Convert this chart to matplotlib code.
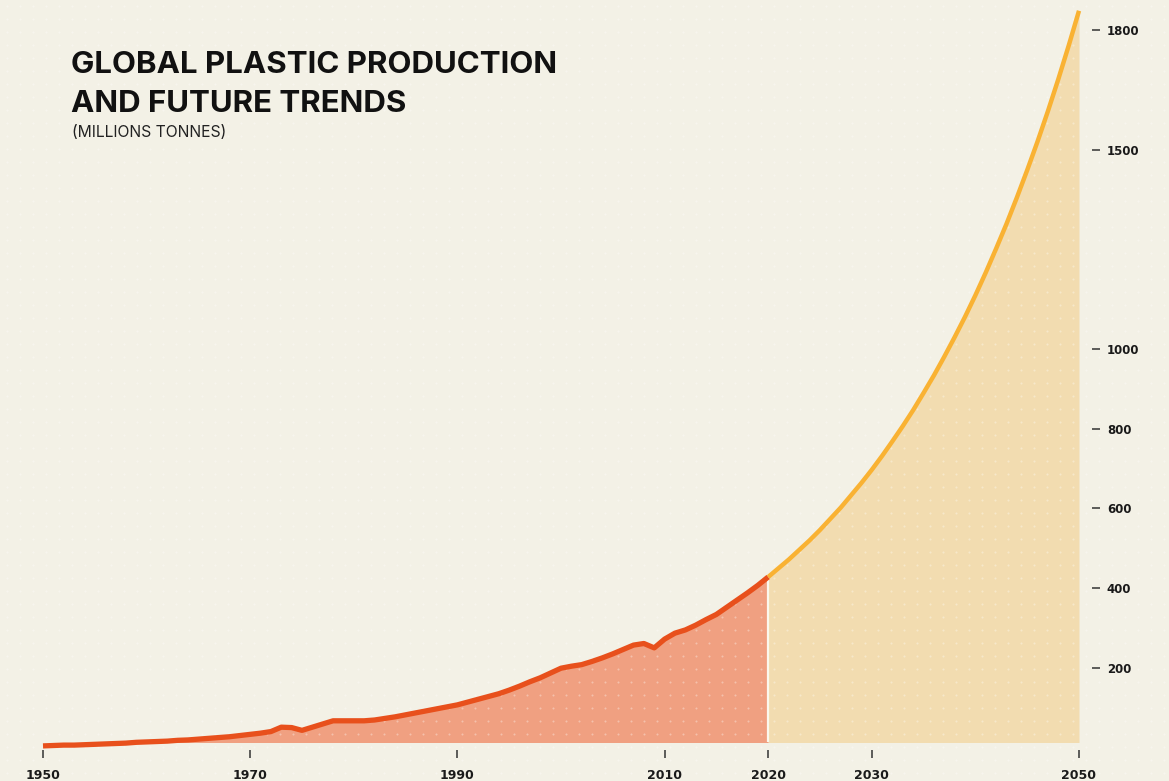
import numpy as np
import matplotlib.pyplot as plt

# historical production, million tonnes
years_hist = list(range(1950, 2021))
production_hist = [4, 5, 6, 6, 7, 8, 9, 10, 11, 13,
                   14, 15, 16, 18, 19, 21, 23, 25, 27, 30,
                   33, 36, 40, 51, 50, 43, 51, 59, 67, 67,
                   67, 67, 69, 73, 77, 82, 87, 92, 97, 102,
                   107, 114, 121, 128, 135, 144, 154, 165, 175, 187,
                   199, 204, 208, 216, 225, 235, 246, 257, 261, 250,
                   272, 287, 295, 307, 321, 334, 352, 370, 388, 407,
                   428]

# projected trend 2020-2050
years_proj = list(range(2020, 2051))
production_proj = [428, 450, 472, 496, 520, 546, 574, 602, 633, 664,
                   697, 732, 769, 807, 847, 890, 934, 981, 1030, 1081,
                   1135, 1192, 1252, 1314, 1380, 1449, 1521, 1597, 1677, 1761,
                   1849]

x_ticks = [1950, 1970, 1990, 2010, 2020, 2030, 2050]
y_ticks = [200, 400, 600, 800, 1000, 1500, 1800]

BG = '#f3f1e6'
W, H = 1169, 781

fig = plt.figure(figsize=(W / 100, H / 100), dpi=100, facecolor=BG)
ax = fig.add_axes([43 / W, 1 - 742 / H, (1079 - 43) / W, 742 / H])
ax.patch.set_alpha(0)

# dotted background pattern
gx, gy = np.meshgrid(np.arange(7, W, 13), np.arange(6, H, 13))
ax.scatter(gx.ravel() / W, 1 - gy.ravel() / H, s=2.2, color='white', alpha=0.35,
           linewidths=0, transform=fig.transFigure, clip_on=False, zorder=1.5)

ax.fill_between(years_hist, production_hist, 0, color='#f0a081', linewidth=0, zorder=1)
ax.fill_between(years_proj, production_proj, 0, color='#f2dcb0', linewidth=0, zorder=1)
ax.vlines(2020, 0, production_hist[-1], color='#fbf8ee', linewidth=1.6, zorder=1.8)

ax.plot(years_hist, production_hist, color='#e8501c', linewidth=3.8,
        solid_joinstyle='round', solid_capstyle='butt', clip_on=False, zorder=2)
ax.plot(years_proj, production_proj, color='#f9b233', linewidth=3.2,
        solid_capstyle='butt', clip_on=False, zorder=2)

ax.set_xlim(1950, 2050)
ax.set_ylim(13.8, 1876)

for s in ax.spines.values():
    s.set_visible(False)
ax.spines['bottom'].set_position(('outward', 6))
ax.spines['right'].set_position(('outward', 9))

ax.set_xticks(x_ticks)
ax.set_xticklabels([str(t) for t in x_ticks])
ax.yaxis.tick_right()
ax.set_yticks(y_ticks)
ax.set_yticklabels([str(t) for t in y_ticks])
ax.tick_params(axis='x', length=6, width=1.1, color='#333333', pad=7.5,
               labelsize=9, labelcolor='#1a1a1a')
ax.tick_params(axis='y', length=6, width=1.1, color='#333333', pad=5,
               labelsize=8.5, labelcolor='#1a1a1a')
for lab in ax.get_xticklabels() + ax.get_yticklabels():
    lab.set_fontweight('bold')

fig.text(71 / W, 1 - 51 / H, 'GLOBAL PLASTIC PRODUCTION', family=['Inter', 'DejaVu Sans'],
         weight='bold', fontsize=22.5, color='#111111', va='top', ha='left')
fig.text(71 / W, 1 - 90 / H, 'AND FUTURE TRENDS', family=['Inter', 'DejaVu Sans'],
         weight='bold', fontsize=22.5, color='#111111', va='top', ha='left')
fig.text(72 / W, 1 - 125 / H, '(MILLIONS TONNES)', family=['Inter', 'DejaVu Sans'],
         fontsize=11.3, color='#222222', va='top', ha='left')

fig.savefig('out.png', dpi=100, facecolor=BG)
